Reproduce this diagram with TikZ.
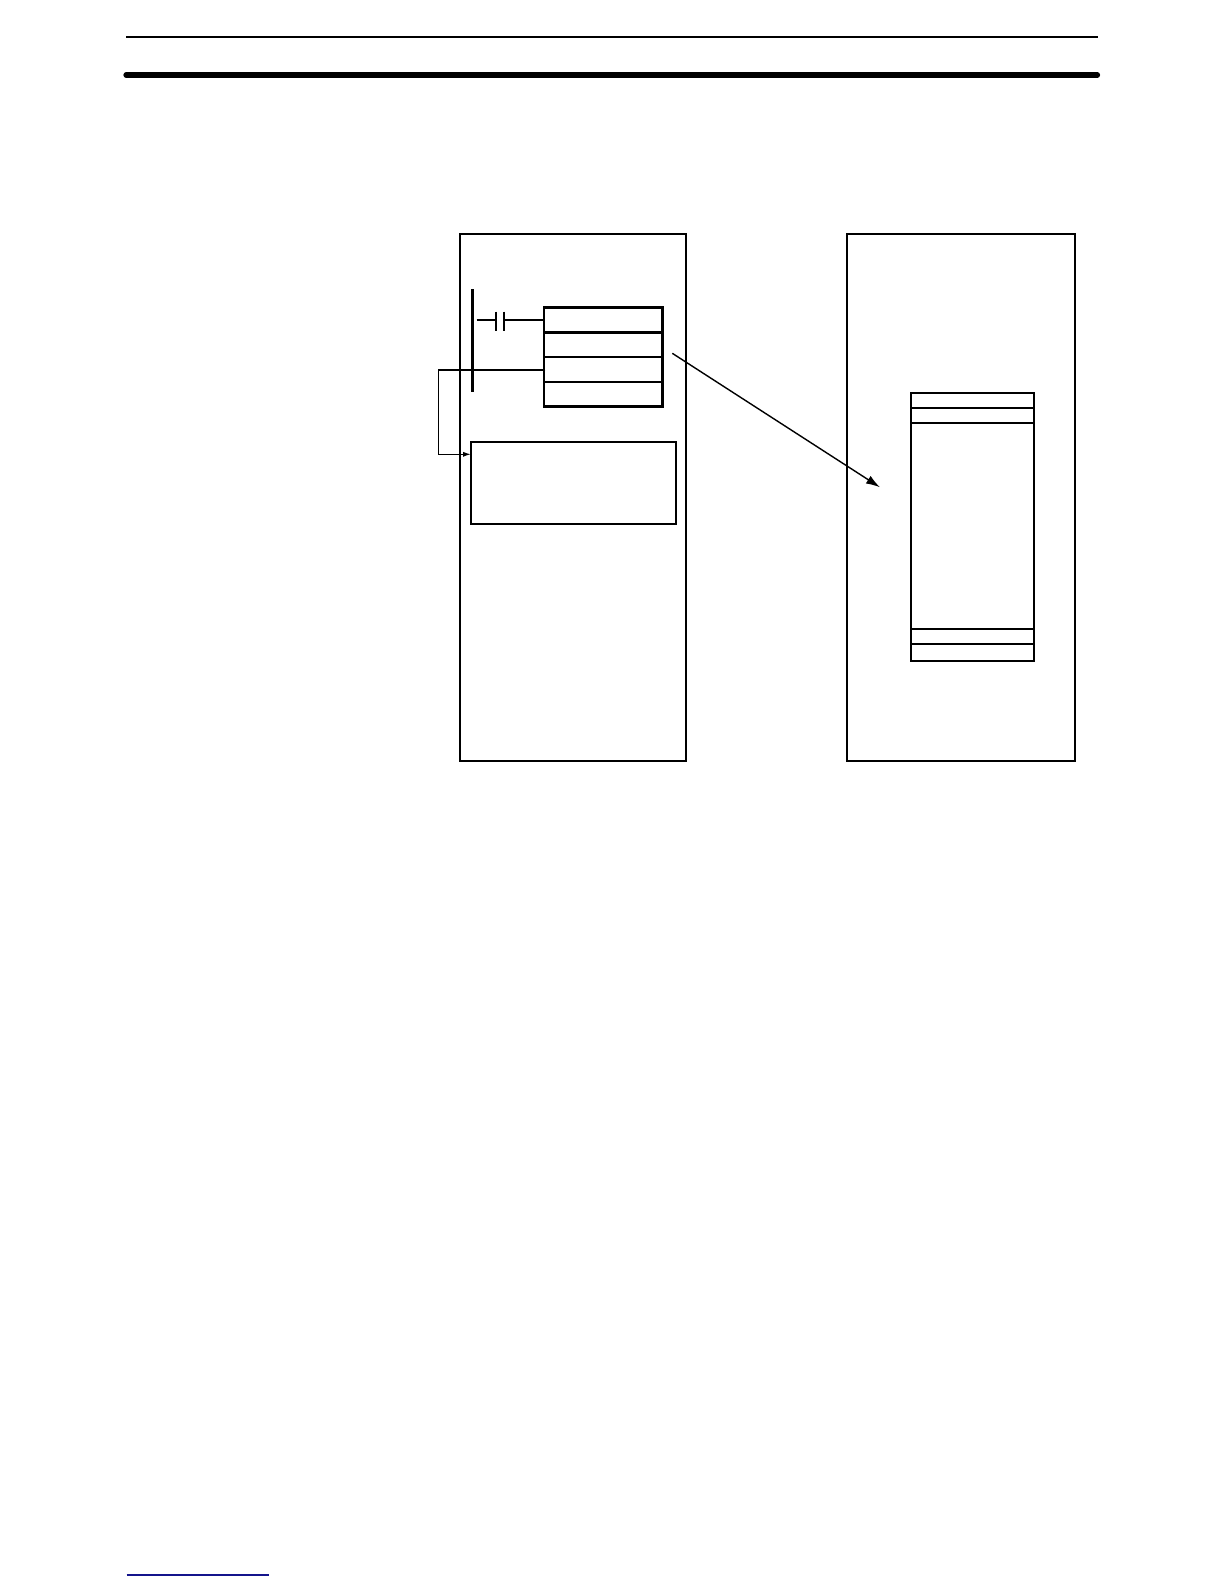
\documentclass[tikz,border=0pt]{standalone}
\usetikzlibrary{fit,arrows.meta,calc}
\definecolor{linkblue}{RGB}{20,20,140}
\begin{document}
\begin{tikzpicture}[x=0.5pt,y=-0.5pt,
  frame/.style={draw,line width=0.9pt,inner sep=0pt},
  rowbox/.style={draw,line width=1.4pt,inner sep=0pt},
  thin/.style={line width=0.7pt}]
\useasboundingbox[fill=white] (0,0) rectangle (1224,1584);
% header rules
\coordinate (h1a) at (126,37.5); \coordinate (h1b) at (1097.5,37.5);
\coordinate (h2a) at (126,75); \coordinate (h2b) at (1097.5,75);
\draw[line width=1pt] (h1a) -- (h1b);
\draw[line width=2.6pt,line cap=round] (h2a) -- (h2b);
% big panels
\coordinate (L1) at (459.7,234.3); \coordinate (L2) at (686.3,761.3);
\coordinate (R1) at (847.3,234.3); \coordinate (R2) at (1074.7,761.3);
\node[frame,fit=(L1)(L2)] (left) {};
\node[frame,fit=(R1)(R2)] (right) {};
% instruction block rows
\coordinate (a0) at (544,307.7); \coordinate (a1) at (662.7,332.3);
\coordinate (b1) at (662.7,357); \coordinate (c1) at (662.7,382);
\coordinate (d1) at (662.7,406.7);
\coordinate (b0) at (544,332.3); \coordinate (c0) at (544,357); \coordinate (d0) at (544,382);
\node[rowbox,fit=(a0)(a1)] (r1) {};
\node[rowbox,fit=(b0)(b1)] (r2) {};
\node[rowbox,fit=(c0)(c1)] (r3) {};
\node[rowbox,fit=(d0)(d1)] (r4) {};
% ladder rail and contact
\coordinate (railT) at (472.7,289); \coordinate (railB) at (472.7,391.7);
\draw[line width=1.3pt] (railT) -- (railB);
\coordinate (cA) at (476.7,320); \coordinate (cB) at (496,320);
\coordinate (cC) at (504,320);
\draw[line width=1.3pt] (cA) -- (cB);
\draw[line width=1.3pt] ($(cB)+(0,-8.5)$) -- ($(cB)+(0,11)$);
\draw[line width=1.3pt] ($(cC)+(0,-8.5)$) -- ($(cC)+(0,11)$);
\draw[line width=1.3pt] (cC) -- (r1.west);
% lower box
\coordinate (m0) at (471,441.7); \coordinate (m1) at (675.7,524.3);
\node[frame,fit=(m0)(m1)] (lower) {};
% connector from row 3 to lower box
\coordinate (turn) at (438.3,370);
\coordinate (entry) at (471,454.3);
\draw[thin,-{Latex[length=4pt,width=2.6pt]}] ($(r3.west)+(2.7,0.5)$) -- (turn) |- (entry);
% right table
\coordinate (t0) at (911.3,393.3); \coordinate (t1) at (1034.3,661);
\node[frame,fit=(t0)(t1)] (table) {};
\draw[frame] (table.west |- 0,408.3) -- (table.east |- 0,408.3);
\draw[frame] (table.west |- 0,423.3) -- (table.east |- 0,423.3);
\draw[frame] (table.west |- 0,629.3) -- (table.east |- 0,629.3);
\draw[frame] (table.west |- 0,644.3) -- (table.east |- 0,644.3);
% diagonal arrow
\coordinate (dA) at (672.3,353.3); \coordinate (dB) at (880,487.3);
\draw[thin,-{Latex[length=7pt,width=4.5pt]}] (dA) -- (dB);
% footer link line
\coordinate (fA) at (126.7,1575); \coordinate (fB) at (269,1575);
\draw[linkblue,line width=0.7pt] (fA) -- (fB);
\end{tikzpicture}
\end{document}
